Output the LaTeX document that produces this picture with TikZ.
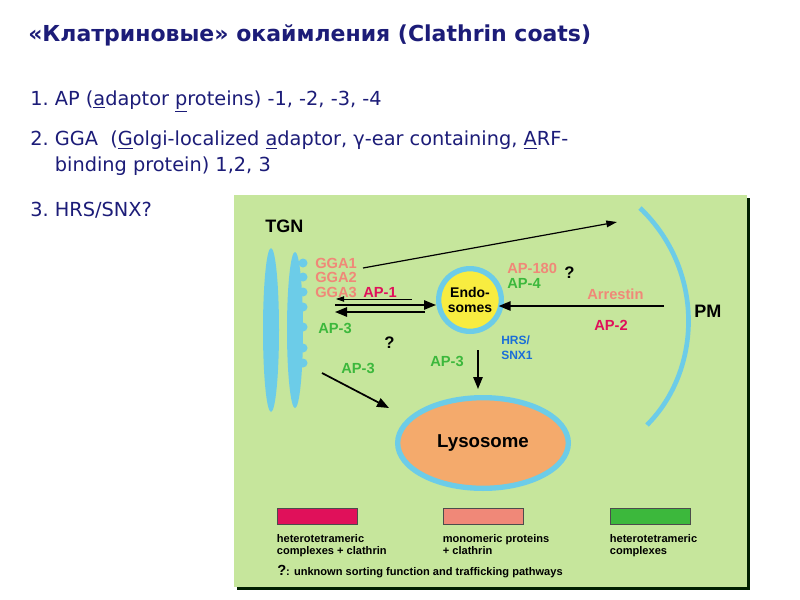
\documentclass[tikz,border=0pt]{standalone}
\usepackage{fontspec}
\setmainfont{DejaVu Sans}
\newfontfamily\arl{Liberation Sans}
\usetikzlibrary{arrows.meta,shapes.geometric}
\definecolor{hdr}{HTML}{1C1C78}
\definecolor{bg}{HTML}{C6E69C}
\definecolor{mem}{HTML}{6CCCE8}
\definecolor{sal}{HTML}{F08878}
\definecolor{crim}{HTML}{E0105A}
\definecolor{grn}{HTML}{3CB83C}
\definecolor{lys}{HTML}{F4AA6C}
\definecolor{endo}{HTML}{F8EC40}
\definecolor{hrs}{HTML}{1A6ED8}
\tikzset{
 lab/.style={font=\arl\bfseries\fontsize{11}{12}\selectfont,inner sep=0pt,anchor=west},
 leg/.style={font=\arl\bfseries\fontsize{8.3}{9.3}\selectfont,inner sep=0pt,anchor=north west,align=left},
 txt/.style={font=\fontsize{14.5}{19.5}\selectfont,text=hdr,inner sep=0pt,anchor=west,align=left},
 arr/.style={-{Triangle[length=9pt,width=7pt]},line width=1.3pt},
 memb/.style={draw=mem,line width=3.5pt},
 sw/.style={rectangle,draw=black!70,line width=0.6pt,minimum width=60pt,minimum height=12pt,inner sep=0pt}
}
\begin{document}
\begin{tikzpicture}[x=0.75pt,y=-0.75pt]
\useasboundingbox (0,0) rectangle (800,600);
\fill[white] (0,0) rectangle (800,600);
\node[txt,font=\bfseries\fontsize{16.5}{19}\selectfont] (title) at (28,35) {«Клатриновые» окаймления (Clathrin coats)};
\node[txt] (l1) at (30,101) {1.~AP (\underline{a}daptor \underline{p}roteins) -1, -2, -3, -4};
\node[txt,anchor=north west] (l2) at (30,131) {2.~GGA\ \ (\underline{G}olgi-localized \underline{a}daptor, γ-ear containing, \underline{A}RF-\\\phantom{2.~}binding protein) 1,2, 3};
\node[txt] (l3) at (30,210) {3.~HRS/SNX?};
% panel
\fill[black!70!green!40!black] (237,198) rectangle (750,590);
\fill[bg] (234,195) rectangle (747,587);
\node[lab,font=\arl\bfseries\fontsize{13.5}{15}\selectfont] (tgn) at (265,226) {TGN};
\node[lab,font=\arl\bfseries\fontsize{13.5}{15}\selectfont] (pm) at (694,311) {PM};
% TGN cisternae
\fill[mem] (271,330) ellipse (8 and 82);
\fill[mem] (295,330) ellipse (8 and 78);
\foreach \yy in {263,277,292,307,327,348,363} \fill[mem] (303,\yy) circle (4.5);
% PM arc
\draw[memb] (640,208) .. controls (705,270) and (702,370) .. (647,425);
\node[lab,text=sal] (gga1) at (315,263) {GGA1};
\node[lab,text=sal] (gga2) at (315,277) {GGA2};
\node[lab,text=sal] (gga3) at (315,292) {GGA3};
\node[lab,text=crim] (ap1) at (363,292) {AP-1};
\node[lab,text=grn] (ap3a) at (318,328) {AP-3};
\node[lab,text=grn] (ap3b) at (341,368) {AP-3};
\node[lab,text=grn] (ap3c) at (430,361) {AP-3};
\node[lab,font=\arl\bfseries\fontsize{12.5}{13}\selectfont] (q1) at (384,343) {?};
\node[lab,font=\arl\bfseries\fontsize{12.5}{13}\selectfont] (q2) at (564,273) {?};
\node[lab,text=sal] (ap180) at (507,268) {AP-180};
\node[lab,text=grn] (ap4) at (507,283) {AP-4};
\node[lab,text=sal] (arr) at (587,294) {Arrestin};
\node[lab,text=crim] (ap2) at (594,325) {AP-2};
\node[lab,text=hrs,font=\arl\bfseries\fontsize{9}{11}\selectfont,align=left] (hrs) at (501,348) {HRS/\\SNX1};
% endosome
\node[circle,draw=mem,line width=4pt,fill=endo,minimum size=47pt,inner sep=0pt,align=center,font=\arl\bfseries\fontsize{10.5}{11}\selectfont] (endo) at (470,300) {Endo-\\somes};
% lysosome
\node[ellipse,draw=mem,line width=4pt,fill=lys,minimum width=128pt,minimum height=68pt,font=\arl\bfseries\fontsize{14}{15}\selectfont] (lys) at (483,443) {Lysosome};
% arrows
\coordinate (a1s) at (412,299); \coordinate (a1e) at (336,299);
\draw[-{Triangle[length=6pt,width=4pt]},line width=0.6pt] (a1s) -- (a1e);
\coordinate (a2s) at (335,305);
\draw[arr] (a2s) -- (endo.west |- a2s);
\coordinate (a3s) at (425,312); \coordinate (a3e) at (335,312);
\draw[arr] (a3s) -- (a3e);
\coordinate (g1) at (363,268); \coordinate (g2) at (617,222);
\draw[-{Triangle[length=8pt,width=5pt]},line width=0.9pt] (g1) -- (g2);
\coordinate (pms) at (664,306);
\draw[arr] (pms) -- ([xshift=-4pt]endo.east |- pms);
\coordinate (ds) at (478,350); \coordinate (de) at (478,389);
\draw[arr] (ds) -- (de);
\coordinate (t1) at (322,373); \coordinate (t2) at (389,408);
\draw[arr] (t1) -- (t2);
% legend
\node[sw,fill=crim] (s1) at (317,516) {};
\node[sw,fill=sal] (s2) at (483,516) {};
\node[sw,fill=grn] (s3) at (650,516) {};
\node[leg] (t1l) at (s1.south west) [yshift=-7pt] {heterotetrameric\\complexes + clathrin};
\node[leg] (t2l) at (s2.south west) [yshift=-7pt] {monomeric proteins\\+ clathrin};
\node[leg] (t3l) at (s3.south west) [yshift=-7pt] {heterotetrameric\\complexes};
\node[leg,anchor=west] (qn) at (277,572) {{\fontsize{11}{12}\selectfont ?}: unknown sorting function and trafficking pathways};
\end{tikzpicture}
\end{document}
